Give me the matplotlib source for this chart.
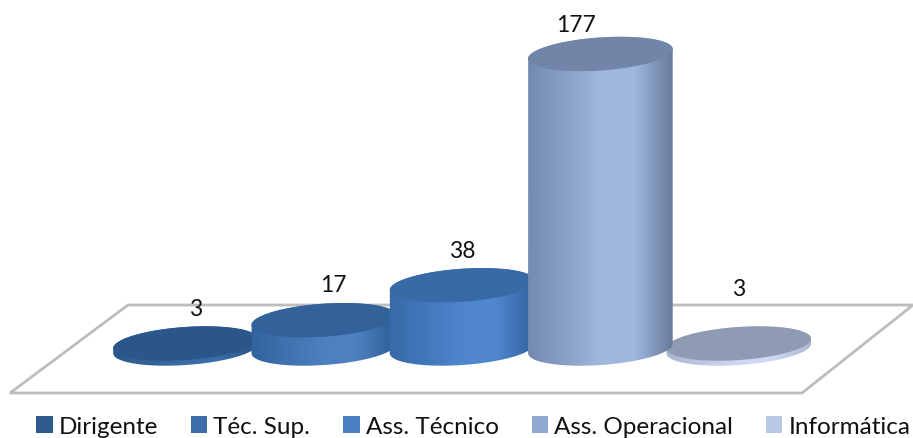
import matplotlib
matplotlib.use('Agg')
import matplotlib.pyplot as plt
from matplotlib.patches import Patch, PathPatch, Polygon
from matplotlib.path import Path
from matplotlib.colors import LinearSegmentedColormap
import numpy as np

categories = ['Dirigente', 'Téc. Sup.', 'Ass. Técnico', 'Ass. Operacional', 'Informática']
values = [3, 17, 38, 177, 3]
legend_colors = ['#2f5b8c', '#3d6da8', '#4a7fc1', '#8fa8d0', '#b9c8e4']
top_colors = ['#2b5689', '#33629b', '#386aa6', '#7085a8', '#8f9bb3']
left_colors = ['#2b5788', '#30639c', '#3569a8', '#7088ab', '#a9b6d2']
mid_colors = ['#3a6ca8', '#4d80bf', '#4f86cd', '#a0b7de', '#cdd9f2']
right_colors = ['#27507f', '#2a5a90', '#2c5d98', '#5f7393', '#a9b6d2']

# pixels of the picture, the axes fills the whole figure
W, H = 913, 439
X0, DX = 185.5, 138.3   # px of first category, px per category
Y0, DY = 349.5, 1.664   # px of value 0, px per value
RX, RY, TILT = 72.5, 16.5, np.radians(4)

plt.rcParams['font.family'] = ['Lato', 'DejaVu Sans']
fig = plt.figure(figsize=(W / 100, H / 100), dpi=100)
ax = fig.add_axes([0, 0, 1, 1])
ax.set_xlim(-X0 / DX, (W - X0) / DX)
ax.set_ylim((Y0 - H) / DY, Y0 / DY)
ax.axis('off')


def ellipse(i, v, t):
    # outline of a tilted disc in data units
    px = RX * np.cos(t) * np.cos(TILT) + RY * np.sin(t) * np.sin(TILT)
    py = RX * np.cos(t) * np.sin(TILT) - RY * np.sin(t) * np.cos(TILT)
    return np.column_stack([i + px / DX, v + py / DY])


# floor
floor_px = np.array([(128, 306), (913, 306), (802, 394), (10, 394)], dtype=float)
floor = np.column_stack([(floor_px[:, 0] - X0) / DX, (Y0 - floor_px[:, 1]) / DY])
ax.add_patch(Polygon(floor, closed=True, fc='white', ec='#bdbdbd', lw=2, zorder=1))

# short cylinders first, so the taller ones overlap them
for z, k in enumerate(np.argsort(values, kind='stable')):
    t_split = np.arctan2(RY * np.sin(-TILT), RX * np.cos(TILT))
    front = np.linspace(t_split, t_split + np.pi, 80)
    back = np.linspace(t_split + np.pi, t_split + 2 * np.pi, 80)
    outline = np.vstack([ellipse(k, 0, front), ellipse(k, values[k], back)])
    cmap = LinearSegmentedColormap.from_list(
        'side', [(0, left_colors[k]), (0.5, mid_colors[k]), (0.72, mid_colors[k]), (1, right_colors[k])])
    side = PathPatch(Path(np.vstack([outline, outline[:1]])), fc='none', ec='none', zorder=2 + z)
    ax.add_patch(side)
    ext_x = (RX + 4) / DX
    im = ax.imshow(np.linspace(0, 1, 200)[None, :], cmap=cmap, aspect='auto',
                   extent=[k - ext_x, k + ext_x, -40 / DY, values[k] + 40 / DY],
                   zorder=2 + z, interpolation='bilinear')
    im.set_clip_path(side)
    t = np.linspace(0, 2 * np.pi, 200)
    ax.fill(*ellipse(k, values[k], t).T, color=top_colors[k], lw=0, zorder=2 + z + 0.5)

ax.set_xlim(-X0 / DX, (W - X0) / DX)
ax.set_ylim((Y0 - H) / DY, Y0 / DY)

# data labels, offset in px from the disc centre
label_dx = [10, 10, 0, -24, 0]
label_dy = [35, 36, 35, 29, 55]
for k, v in enumerate(values):
    ax.annotate(str(v), (k, v), xytext=(label_dx[k] * 0.72, label_dy[k] * 0.72),
                textcoords='offset points', ha='center', va='center',
                fontsize=16.5, color='#111111', zorder=20)

handles = [Patch(fc=c, ec='none') for c in legend_colors]
fig.legend(handles, categories, loc='lower left', bbox_to_anchor=(36 / W, 0.002), ncol=5,
           frameon=False, fontsize=17.5, handlelength=0.68, handleheight=0.68, handletextpad=0.25,
           columnspacing=1.35, labelcolor='#111111', borderpad=0, borderaxespad=0)

fig.savefig('out.png', dpi=100)
